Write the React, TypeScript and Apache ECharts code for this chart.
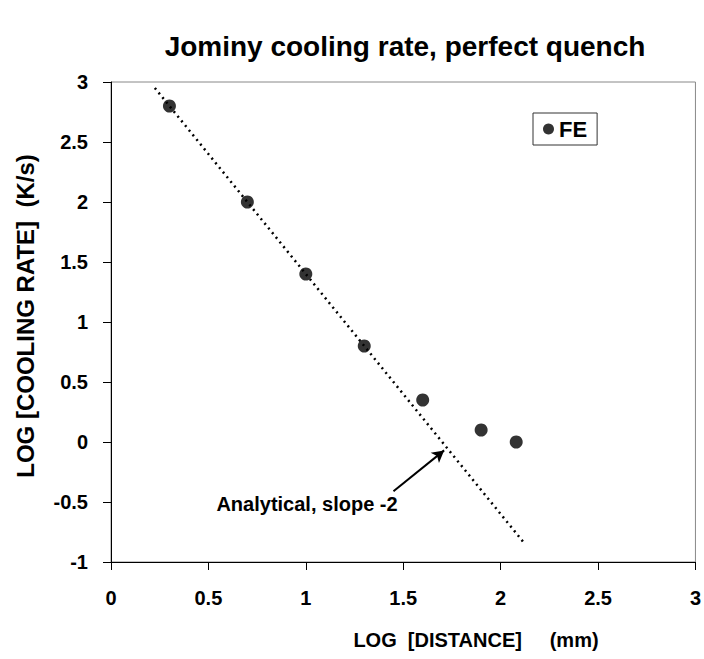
import React, { useEffect, useRef } from "react";
import * as echarts from "echarts";

const FONT = "'Liberation Sans', Arial, sans-serif";

// Measured data: log10 distance (mm) vs log10 cooling rate (K/s)
const feX = [0.3, 0.7, 1.0, 1.3, 1.6, 1.9, 2.08];
const feY = [2.8, 2.0, 1.4, 0.8, 0.35, 0.1, 0.0];

// Analytical line, slope -2 (end points)
const analyticalX = [0.225, 2.115];
const analyticalY = [2.95, -0.83];

// Arrow of the annotation (tail -> head), in data units
const arrowFrom = [1.45, -0.41];
const arrowTo = [1.71, -0.07];

const xTicks = { min: 0, max: 3, interval: 0.5 };
const yTicks = { min: -1, max: 3, interval: 0.5 };

export default function App() {
  const ref = useRef<HTMLDivElement>(null);

  useEffect(() => {
    if (!ref.current) return;
    const chart = echarts.init(ref.current, null, { renderer: "svg" });
    const feData = feX.map((x, i) => [x, feY[i]]);
    const lineData = analyticalX.map((x, i) => [x, analyticalY[i]]);
    chart.setOption({
      animation: false,
      backgroundColor: "#fff",
      textStyle: { fontFamily: FONT },
      grid: {
        left: 111,
        right: 6,
        top: 82,
        bottom: 97,
        show: true,
        borderColor: "#888",
        borderWidth: 1,
      },
      legend: {
        left: 533,
        top: 113,
        orient: "vertical",
        borderColor: "#333",
        borderWidth: 1,
        padding: [4, 10, 4, 10],
        itemWidth: 11,
        itemHeight: 11,
        data: [{ name: "FE", icon: "circle" }],
        textStyle: { fontFamily: FONT, fontWeight: "bold", fontSize: 22, color: "#000", lineHeight: 24 },
      },
      xAxis: {
        type: "value",
        min: xTicks.min,
        max: xTicks.max,
        interval: xTicks.interval,
        axisLine: { show: true, onZero: false, lineStyle: { color: "#000", width: 1 } },
        axisTick: { show: true, inside: false, length: 8, lineStyle: { color: "#000" } },
        splitLine: { show: false },
        axisLabel: { margin: 26, color: "#000", fontFamily: FONT, fontWeight: "bold", fontSize: 20, showMaxLabel: true },
      },
      yAxis: {
        type: "value",
        min: yTicks.min,
        max: yTicks.max,
        interval: yTicks.interval,
        axisLine: { show: true, onZero: false, lineStyle: { color: "#000", width: 1 } },
        axisTick: { show: true, inside: false, length: 8, lineStyle: { color: "#000" } },
        splitLine: { show: false },
        axisLabel: { margin: 23, color: "#000", fontFamily: FONT, fontWeight: "bold", fontSize: 20 },
      },
      series: [
        {
          name: "Analytical",
          type: "line",
          data: lineData,
          showSymbol: false,
          symbol: "none",
          lineStyle: { color: "#000", width: 2.5, type: [2, 4] },
          z: 2,
          markLine: {
            silent: true,
            symbol: ["none", "arrow"],
            symbolSize: [10, 12],
            label: { show: false },
            lineStyle: { color: "#000", width: 2, type: "solid" },
            data: [[{ coord: arrowFrom }, { coord: arrowTo }]],
          },
        },
        {
          name: "FE",
          type: "scatter",
          data: feData,
          symbol: "circle",
          symbolSize: 13,
          itemStyle: { color: "#000" },
          z: 3,
        },
      ],
      graphic: [
        {
          type: "text",
          x: 405,
          y: 46,
          style: {
            text: "Jominy cooling rate, perfect quench",
            font: `bold 28px ${FONT}`,
            fill: "#000",
            align: "center",
            verticalAlign: "middle",
          },
        },
        {
          type: "text",
          x: 476,
          y: 640,
          style: {
            text: "LOG  [DISTANCE]     (mm)",
            font: `bold 20px ${FONT}`,
            fill: "#000",
            align: "center",
            verticalAlign: "middle",
          },
        },
        {
          type: "text",
          x: 25,
          y: 316,
          rotation: Math.PI / 2,
          style: {
            text: "LOG [COOLING RATE]  (K/s)",
            font: `bold 24px ${FONT}`,
            fill: "#000",
            align: "center",
            verticalAlign: "middle",
          },
        },
        {
          type: "text",
          x: 307,
          y: 504,
          style: {
            text: "Analytical, slope -2",
            font: `bold 20px ${FONT}`,
            fill: "#000",
            align: "center",
            verticalAlign: "middle",
          },
        },
      ],
    });
    return () => chart.dispose();
  }, []);

  return (
    <div
      ref={ref}
      style={{ position: "fixed", left: 0, top: 0, width: 704, height: 659, background: "#fff" }}
    />
  );
}
